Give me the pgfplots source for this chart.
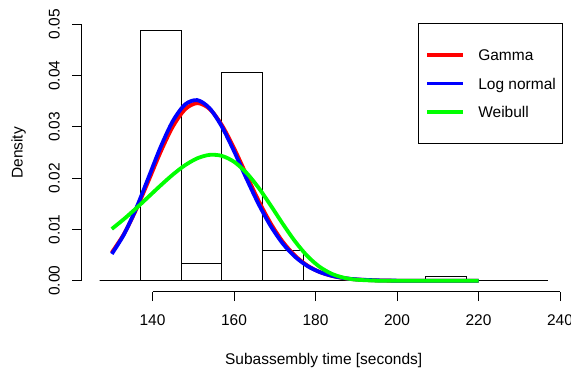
\documentclass[border=0pt]{standalone}
\usepackage{pgfplots}
\pgfplotsset{compat=1.18}
\usepackage{fontspec}
\setmainfont{Liberation Sans}
\begin{document}
\fontsize{15.5bp}{18.6bp}\selectfont
\begin{tikzpicture}
\begin{axis}[
  scale only axis,
  width=484.35bp, height=278bp,
  xmin=122.6, xmax=241.4, ymin=-0.00215, ymax=0.052,
  axis lines*=left,
  axis line style={draw=none},
  clip=false,
  tick align=outside,
  major tick length=9.3bp,
  tick style={black, line width=1bp},
  xtick={140,160,180,200,220,240},
  ytick={0,0.01,0.02,0.03,0.04,0.05},
  scaled y ticks=false,
  /pgf/number format/assume math mode=true,
  yticklabel style={rotate=90, anchor=south, inner sep=0pt, /pgf/number format/fixed, /pgf/number format/fixed zerofill, /pgf/number format/precision=2},
  xticklabel style={anchor=north, inner sep=0pt},
  xticklabel shift=13.7bp,
  yticklabel shift=12.4bp,
  xlabel={Subassembly time [seconds]},
  ylabel={Density},
  every axis x label/.style={at={(axis description cs:0.5,-0.2629)}, anchor=base},
  every axis y label/.style={at={(axis description cs:-0.1222,0.5)}, rotate=90, anchor=base},
  legend style={at={(axis cs:205.24,0.05021)}, anchor=north west, draw=black, line width=1bp, fill=white,
    inner xsep=6.3bp, inner ysep=26bp, row sep=17.2bp, column sep=13bp,
    cells={anchor=west}, nodes={inner sep=0pt, text height=11.1bp, text depth=0pt}},
  legend cell align=left,
  legend image code/.code={\path (0bp,0bp) -- (5.4bp,0bp); \draw[#1] (5.4bp,0bp) -- (36.4bp,0bp);},
]
\addplot[ybar interval, draw=black, fill=none, line width=1bp, forget plot] table {
x y
127 0
137 0.0488
147 0.0034
157 0.0405
167 0.0060
177 0
187 0
197 0
207 0.0008
217 0
227 0
237 0
};
\addplot[color=red, line width=3.8bp, smooth] table {
x y
130 0.005508
133 0.009147
136 0.013915
139 0.019472
142 0.025155
145 0.030090
148 0.033438
151 0.034624
154 0.033499
157 0.030362
160 0.025844
163 0.020708
166 0.015652
169 0.011188
172 0.007571
175 0.004865
178 0.002971
181 0.001728
184 0.000959
187 0.000508
190 0.000258
195 0.0000756
200 0.0000198
210 0.000001
220 0
};
\addlegendentry{Gamma}
\addplot[color=blue, line width=3.8bp, smooth] table {
x y
130 0.005238
133 0.009058
136 0.014151
139 0.020095
142 0.026097
145 0.031156
148 0.034375
151 0.035210
154 0.033628
157 0.030068
160 0.025265
163 0.020017
166 0.015005
169 0.010674
172 0.007225
175 0.004668
178 0.002884
181 0.001709
184 0.000973
187 0.000533
190 0.000282
195 0.0000905
200 0.0000266
210 0.000002
220 0
};
\addlegendentry{Log normal}
\addplot[color={rgb,255:red,0;green,255;blue,0}, line width=3.8bp, smooth] table {
x y
130 0.010104
133 0.012042
136 0.014150
139 0.016367
142 0.018596
145 0.020709
148 0.022534
151 0.023878
154 0.024541
157 0.024349
160 0.023198
163 0.021088
166 0.018159
169 0.014686
172 0.011054
175 0.007659
178 0.004823
181 0.002723
184 0.001356
187 0.000585
190 0.000214
195 0.000026
200 0.000001
210 0
220 0
};
\addlegendentry{Weibull}
\draw[line width=1bp] (axis cs:140,-0.00215) -- (axis cs:240,-0.00215);
\draw[line width=1bp] (axis cs:122.6,0) -- (axis cs:122.6,0.05);
\end{axis}
\pgfresetboundingbox
\path[use as bounding box] ([shift={(-81.7bp,-80bp)}]current axis.south west) rectangle ([shift={(5.3bp,14bp)}]current axis.north east);
\end{tikzpicture}
\end{document}
